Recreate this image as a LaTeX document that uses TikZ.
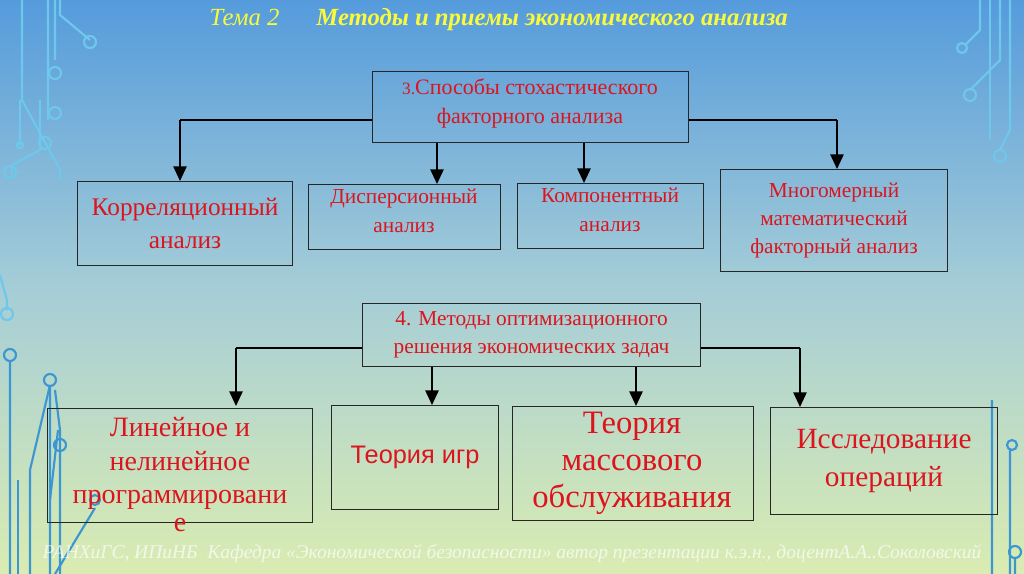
\documentclass[tikz,border=0pt]{standalone}
\usepackage{fontspec}
\setmainfont{Liberation Serif}
\newfontfamily\sansf{Liberation Sans}
\usetikzlibrary{arrows.meta}
\definecolor{txtred}{RGB}{220,20,30}
\definecolor{ttl}{RGB}{250,250,60}
\definecolor{topb}{RGB}{85,155,220}
\definecolor{midb}{RGB}{165,205,215}
\definecolor{botg}{RGB}{218,236,178}
\definecolor{circ}{RGB}{110,200,235}
\definecolor{circd}{RGB}{60,150,210}
\begin{document}
\begin{tikzpicture}[x=0.75pt,y=-0.75pt,
 box/.style={draw=black!85,line width=0.8pt,align=center,text=txtred,inner sep=2pt},
 conn/.style={line width=1.2pt},
 arr/.style={line width=1.2pt,-{Triangle[length=11pt,width=10pt]}},
 dec/.style={line width=1.6pt,circ},
 decd/.style={line width=1.6pt,circd}]
\useasboundingbox (0,0) rectangle (1024,574);
\shade[top color=topb,bottom color=botg,middle color=midb] (0,0) rectangle (1024,574);
% circuit decorations
\draw[dec] (48,0)--(48,120) (22,0)--(22,100)--(60,170)--(60,180);
\draw[dec] (55,0)--(55,60) (40,100)--(40,150)--(12,165)--(12,175);
\draw[dec] (60,0)--(60,15)--(90,40);
\foreach \p in {(90,42),(55,73),(55,113),(45,143),(10,172)} \draw[dec] \p circle (6);
\draw[dec] (20,100)--(20,145) (20,145) circle (3);
\draw[dec] (0,275)--(7,300)--(7,310); \draw[dec] (7,314) circle (6);
\draw[decd] (10,355) circle (6) (10,361)--(10,574);
\draw[decd] (50,380) circle (6) (50,386)--(50,574);
\draw[decd] (30,574)--(30,470)--(50,385);
\draw[decd] (60,574)--(60,430)--(55,390);
\draw[decd] (18,574)--(18,480);
\draw[decd] (55,574)--(95,508) (95,500) circle (5);
\draw[decd] (60,445) circle (6) (58,430)--(50,500);
\draw[dec] (1000,0)--(1000,60)--(970,90) (970,95) circle (6);
\draw[dec] (1010,0)--(1010,130)--(1000,150) (1000,156) circle (6);
\draw[dec] (980,0)--(980,30)--(965,45) (962,48) circle (5);
\draw[dec] (990,140)--(990,0);
\draw[decd] (992,574)--(992,400) (1010,574)--(1010,450) (1012,445) circle (5);
\draw[decd] (1015,552) circle (6) (1015,558)--(1015,574);
% title
\node[text=ttl,font=\fontsize{18.5}{22}\selectfont\itshape,anchor=west] (title) at (205,20) {Тема 2\quad\ \ \textbf{Методы и приемы экономического анализа}};
% top block
\node[box,minimum width=316*0.75pt,minimum height=71*0.75pt,anchor=north west] (b3) at (372,71) {};
\node[text=txtred,align=center,anchor=north,font=\fontsize{16.5}{22}\selectfont] (b3t) at (530,74) {\fontsize{13}{22}\selectfont 3.\fontsize{16.5}{22}\selectfont Способы стохастического\\факторного анализа};
\node[box,minimum width=215*0.75pt,minimum height=84*0.75pt,font=\fontsize{19}{25}\selectfont,anchor=north west] (c1) at (77,181) {Корреляционный\\анализ};
\node[box,minimum width=192*0.75pt,minimum height=65*0.75pt,anchor=north west] (c2) at (308,184) {};
\node[text=txtred,align=center,anchor=north,font=\fontsize{16}{22}\selectfont] (c2t) at (404,184) {Дисперсионный\\анализ};
\node[box,minimum width=186*0.75pt,minimum height=65*0.75pt,anchor=north west] (c3) at (517,183) {};
\node[text=txtred,align=center,anchor=north,font=\fontsize{16}{22}\selectfont] (c3t) at (610,183) {Компонентный\\анализ};
\node[box,minimum width=227*0.75pt,minimum height=102*0.75pt,font=\fontsize{16}{21}\selectfont,anchor=north west] (c4) at (720,169) {Многомерный\\математический\\факторный анализ};
\coordinate (l1) at (180,120); \coordinate (r1) at (837,120);
\draw[conn] (b3.west|-l1) -- (l1); \draw[conn] (b3.east|-r1) -- (r1);
\draw[arr] (l1) -- (c1.north-|l1);
\draw[arr] (r1) -- (c4.north-|r1);
\draw[arr] (b3.south-|437,0) -- (c2.north-|437,0);
\draw[arr] (b3.south-|584,0) -- (c3.north-|584,0);
% bottom block
\node[box,minimum width=338*0.75pt,minimum height=63*0.75pt,font=\fontsize{16}{21}\selectfont,anchor=north west] (b4) at (362,303) {4. Методы оптимизационного\\решения экономических задач};
\node[box,minimum width=265*0.75pt,minimum height=114*0.75pt,anchor=north west] (d1) at (47,408) {};
\node[text=txtred,align=center,font=\fontsize{21}{25}\selectfont,anchor=north] (d1t) at (180,413) {Линейное и\\нелинейное\\программировани\\[-4pt]е};
\node[box,minimum width=167*0.75pt,minimum height=104*0.75pt,font=\sansf\fontsize{19}{22}\selectfont,anchor=north west] (d2) at (331,405) {Теория игр};
\node[box,minimum width=241*0.75pt,minimum height=114*0.75pt,anchor=north west] (d3) at (512,406) {};
\node[text=txtred,align=center,font=\fontsize{24.5}{28}\selectfont,anchor=north] (d3t) at (632,407) {Теория\\массового\\обслуживания};
\node[box,minimum width=227*0.75pt,minimum height=107*0.75pt,font=\fontsize{22}{28}\selectfont,anchor=north west] (d4) at (770,407) {Исследование\\операций};
\coordinate (l2) at (236,348); \coordinate (r2) at (800,348);
\draw[conn] (b4.west|-l2) -- (l2); \draw[conn] (b4.east|-r2) -- (r2);
\draw[arr] (l2) -- (236,406);
\draw[arr] (r2) -- (d4.north-|r2);
\draw[arr] (b4.south-|432,0) -- (d2.north-|432,0);
\draw[arr] (b4.south-|636,0) -- (d3.north-|636,0);
% footer
\node[text=white,opacity=0.7,font=\fontsize{14.6}{16}\selectfont\itshape] (foot) at (512,554) {РАНХиГС, ИПиНБ\ \ Кафедра «Экономической безопасности» автор презентации к.э.н., доцентА.А..Соколовский};
\end{tikzpicture}
\end{document}
